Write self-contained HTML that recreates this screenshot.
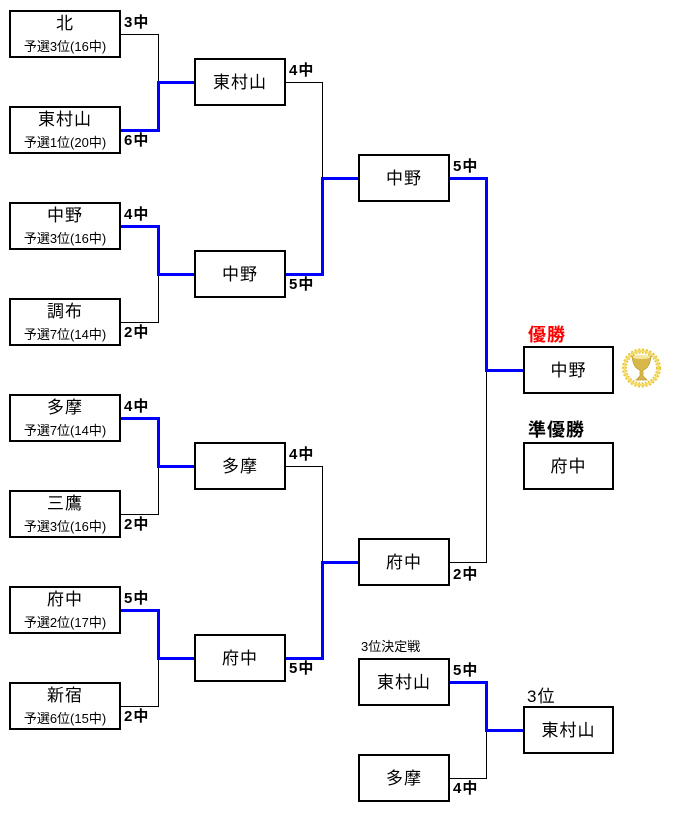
<!DOCTYPE html>
<html><head><meta charset="utf-8">
<style>
html,body{margin:0;padding:0;background:#fff;}
body{width:675px;height:821px;position:relative;overflow:hidden;font-family:"Liberation Sans","Noto Sans CJK JP",sans-serif;}
.b{position:absolute;box-sizing:border-box;border:2px solid #000;background:#fff;}
.t{position:absolute;text-align:center;line-height:1;white-space:nowrap;color:#000;}
.n{font-size:17px;letter-spacing:1px;}
.s{font-size:13px;}
.sc{position:absolute;font-size:15px;font-weight:bold;line-height:1;letter-spacing:1px;white-space:nowrap;}
svg{position:absolute;left:0;top:0;}
</style></head><body>
<svg width="675" height="821" viewBox="0 0 675 821">
<g stroke="#000" stroke-width="1" fill="none" shape-rendering="crispEdges">
<polyline points="121,34.5 158.5,34.5 158.5,82"/>
<polyline points="121,322.5 158.5,322.5 158.5,274"/>
<polyline points="121,514.5 158.5,514.5 158.5,466"/>
<polyline points="121,706.5 158.5,706.5 158.5,658"/>
<polyline points="286,82.5 322.5,82.5 322.5,178"/>
<polyline points="286,466.5 322.5,466.5 322.5,562"/>
<polyline points="450,562.5 486.5,562.5 486.5,370"/>
<polyline points="450,778.5 486.5,778.5 486.5,730"/>
</g>
<g stroke="#0000ff" stroke-width="3" fill="none" shape-rendering="crispEdges">
<polyline points="121,130.5 158.5,130.5 158.5,82.5 194,82.5"/>
<polyline points="121,226.5 158.5,226.5 158.5,274.5 194,274.5"/>
<polyline points="121,418.5 158.5,418.5 158.5,466.5 194,466.5"/>
<polyline points="121,610.5 158.5,610.5 158.5,658.5 194,658.5"/>
<polyline points="286,274.5 322.5,274.5 322.5,178.5 358,178.5"/>
<polyline points="286,658.5 322.5,658.5 322.5,562.5 358,562.5"/>
<polyline points="450,178.5 486.5,178.5 486.5,370.5 523,370.5"/>
<polyline points="450,682.5 486.5,682.5 486.5,730.5 523,730.5"/>
</g>
<!-- trophy -->
<g>
<circle cx="641.5" cy="368" r="17" fill="none" stroke="#e6c43a" stroke-width="5" stroke-dasharray="2 1.5"/>
<circle cx="641.5" cy="368" r="17" fill="none" stroke="#f3dc6a" stroke-width="2"/>
<path d="M632,356 L651,356 Q650,368 643,370 L643,376 L647,380 L636,380 L640,376 L640,370 Q633,368 632,356 Z" fill="#d8b84a" stroke="#b8962a" stroke-width="0.7"/>
<ellipse cx="641.5" cy="357" rx="9" ry="2" fill="#f6e7a0"/>
</g>
</svg>

<!-- Round 1 boxes -->
<div class="b" style="left:9px;top:10px;width:112px;height:48px"></div>
<div class="t n" style="left:9px;top:15px;width:112px">北</div>
<div class="t s" style="left:9px;top:40px;width:112px">予選3位(16中)</div>

<div class="b" style="left:9px;top:106px;width:112px;height:48px"></div>
<div class="t n" style="left:9px;top:111px;width:112px">東村山</div>
<div class="t s" style="left:9px;top:136px;width:112px">予選1位(20中)</div>

<div class="b" style="left:9px;top:202px;width:112px;height:48px"></div>
<div class="t n" style="left:9px;top:207px;width:112px">中野</div>
<div class="t s" style="left:9px;top:232px;width:112px">予選3位(16中)</div>

<div class="b" style="left:9px;top:298px;width:112px;height:48px"></div>
<div class="t n" style="left:9px;top:303px;width:112px">調布</div>
<div class="t s" style="left:9px;top:328px;width:112px">予選7位(14中)</div>

<div class="b" style="left:9px;top:394px;width:112px;height:48px"></div>
<div class="t n" style="left:9px;top:399px;width:112px">多摩</div>
<div class="t s" style="left:9px;top:424px;width:112px">予選7位(14中)</div>

<div class="b" style="left:9px;top:490px;width:112px;height:48px"></div>
<div class="t n" style="left:9px;top:495px;width:112px">三鷹</div>
<div class="t s" style="left:9px;top:520px;width:112px">予選3位(16中)</div>

<div class="b" style="left:9px;top:586px;width:112px;height:48px"></div>
<div class="t n" style="left:9px;top:591px;width:112px">府中</div>
<div class="t s" style="left:9px;top:616px;width:112px">予選2位(17中)</div>

<div class="b" style="left:9px;top:682px;width:112px;height:48px"></div>
<div class="t n" style="left:9px;top:687px;width:112px">新宿</div>
<div class="t s" style="left:9px;top:712px;width:112px">予選6位(15中)</div>

<!-- Round 1 scores -->
<div class="sc" style="left:124px;top:15px">3中</div>
<div class="sc" style="left:124px;top:133px">6中</div>
<div class="sc" style="left:124px;top:207px">4中</div>
<div class="sc" style="left:124px;top:325px">2中</div>
<div class="sc" style="left:124px;top:399px">4中</div>
<div class="sc" style="left:124px;top:517px">2中</div>
<div class="sc" style="left:124px;top:591px">5中</div>
<div class="sc" style="left:124px;top:709px">2中</div>

<!-- Round 2 -->
<div class="b" style="left:194px;top:58px;width:92px;height:48px"></div>
<div class="t n" style="left:194px;top:74px;width:92px">東村山</div>
<div class="b" style="left:194px;top:250px;width:92px;height:48px"></div>
<div class="t n" style="left:194px;top:266px;width:92px">中野</div>
<div class="b" style="left:194px;top:442px;width:92px;height:48px"></div>
<div class="t n" style="left:194px;top:458px;width:92px">多摩</div>
<div class="b" style="left:194px;top:634px;width:92px;height:48px"></div>
<div class="t n" style="left:194px;top:650px;width:92px">府中</div>

<div class="sc" style="left:289px;top:63px">4中</div>
<div class="sc" style="left:289px;top:277px">5中</div>
<div class="sc" style="left:289px;top:447px">4中</div>
<div class="sc" style="left:289px;top:661px">5中</div>

<!-- Round 3 -->
<div class="b" style="left:358px;top:154px;width:92px;height:48px"></div>
<div class="t n" style="left:358px;top:170px;width:92px">中野</div>
<div class="b" style="left:358px;top:538px;width:92px;height:48px"></div>
<div class="t n" style="left:358px;top:554px;width:92px">府中</div>
<div class="sc" style="left:453px;top:159px">5中</div>
<div class="sc" style="left:453px;top:567px">2中</div>

<!-- Final -->
<div class="t" style="left:528px;top:326px;font-size:18px;font-weight:bold;color:#ff0000;letter-spacing:1px">優勝</div>
<div class="b" style="left:523px;top:346px;width:91px;height:48px"></div>
<div class="t n" style="left:523px;top:362px;width:91px">中野</div>

<div class="t" style="left:528px;top:421px;font-size:18px;font-weight:bold;letter-spacing:1px">準優勝</div>
<div class="b" style="left:523px;top:442px;width:91px;height:48px"></div>
<div class="t n" style="left:523px;top:458px;width:91px">府中</div>

<!-- 3rd place -->
<div class="t" style="left:361px;top:640px;font-size:13px">3位決定戦</div>
<div class="b" style="left:358px;top:658px;width:92px;height:48px"></div>
<div class="t n" style="left:358px;top:674px;width:92px">東村山</div>
<div class="b" style="left:358px;top:754px;width:92px;height:48px"></div>
<div class="t n" style="left:358px;top:770px;width:92px">多摩</div>
<div class="sc" style="left:453px;top:663px">5中</div>
<div class="sc" style="left:453px;top:781px">4中</div>

<div class="t" style="left:527px;top:688px;font-size:17px;letter-spacing:1px">3位</div>
<div class="b" style="left:523px;top:706px;width:91px;height:48px"></div>
<div class="t n" style="left:523px;top:722px;width:91px">東村山</div>
</body></html>
